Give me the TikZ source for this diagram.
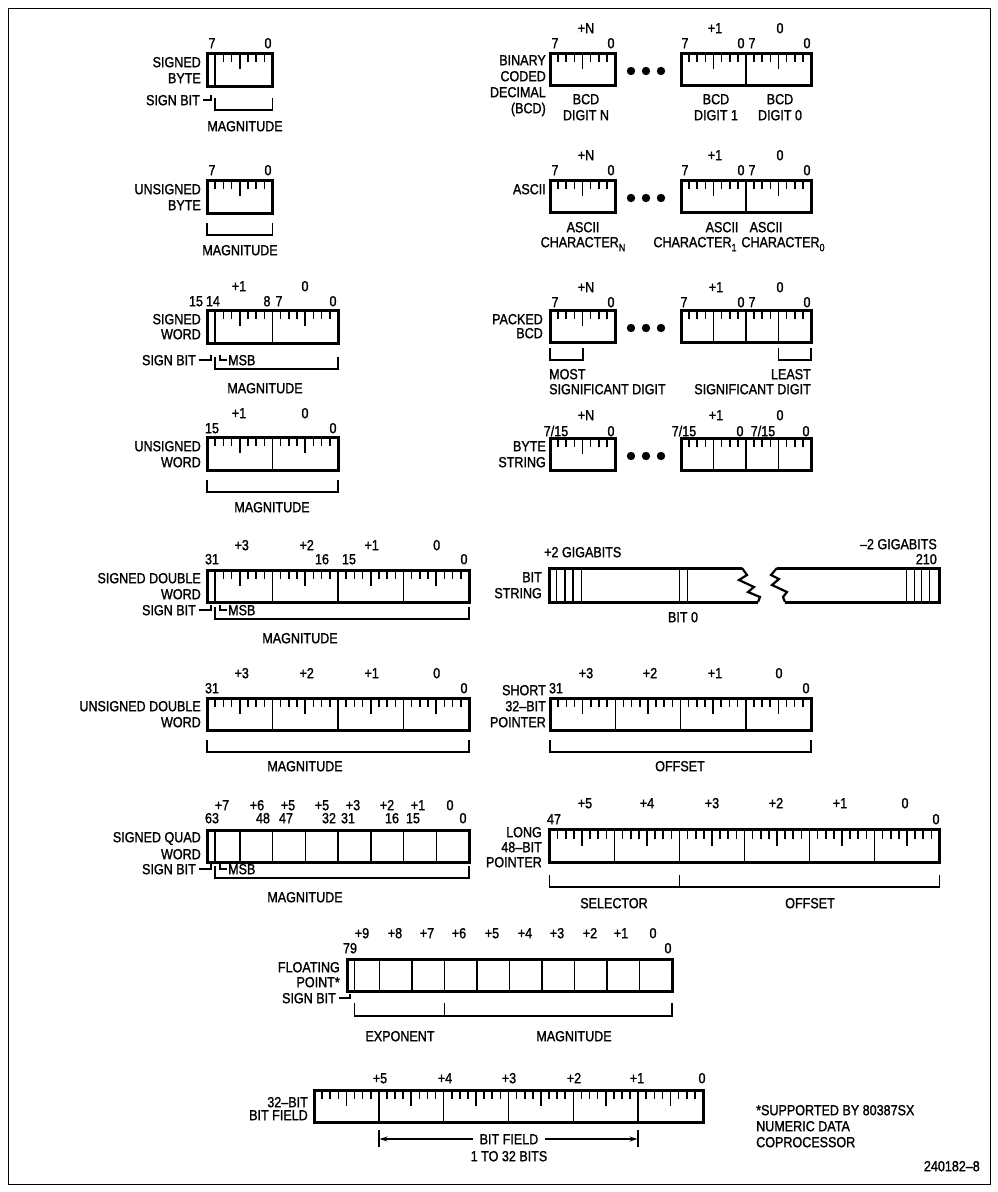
\documentclass[tikz,border=0pt]{standalone}
\usepackage{fontspec}
\newfontfamily\lblf[FakeStretch=0.86,FakeBold=1.3]{Liberation Sans}
\usetikzlibrary{arrows.meta}
\newcommand\lbl{\lblf\fontsize{14.6}{16}\selectfont}
\newcommand\sbs[1]{\raisebox{-4pt}{\fontsize{10.5}{10.5}\selectfont #1}}
\newcommand\tx[5][center]{\node[t,anchor=#1] (#2) at (#3,#4) {#5};}
% ruler byte: x0, ytop, width
\newcommand\rulerbyte[3]{%
  \foreach \k in {1,2,3,5,6,7}{\draw[tk] ({#1+\k*(#3)/8},#2) -- ++(0,9);}
  \draw[tk] ({#1+4*(#3)/8},#2) -- ++(0,16);}
% nibble byte: x0, ytop, width, height
\newcommand\nibblebyte[4]{%
  \foreach \k in {1,2,3,5,6,7}{\draw[tk] ({#1+\k*(#3)/8},#2) -- ++(0,9);}
  \draw[inl] ({#1+4*(#3)/8},#2) -- ++(0,#4);}
\tikzset{
  box/.style={line width=3pt},
  inl/.style={line width=1.5pt},
  tk/.style={line width=1.6pt},
  brk/.style={line width=1.5pt},
  t/.style={inner sep=0pt, font=\lbl, text height=10.4pt, text depth=0pt},
}
\begin{document}
\begin{tikzpicture}[x=1pt,y=-1pt]
\useasboundingbox (0,0) rectangle (998,1192);
\fill[white] (0,0) rectangle (998,1192);
\draw[line width=1pt] (8,8) rectangle (990,1184);

%================ LEFT COLUMN ================
% ---- signed byte
\rulerbyte{207}{53}{65.5}
\draw[inl] (215.2,53) -- (215.2,86);
\draw[box] (207,53) rectangle (272.5,86);
\tx{sbA}{212}{43}{7} \tx{sbB}{268}{43}{0}
\tx[east]{sbC}{201}{62}{SIGNED} \tx[east]{sbD}{201}{78}{BYTE}
\tx[east]{sbE}{200}{100}{SIGN BIT}
\draw[brk] ([xshift=3pt]sbE.east) -| (211,95);
\draw[brk] (215.2,98) -- (215.2,110) -- (272.5,110) -- (272.5,98);
\tx{sbF}{245}{126}{MAGNITUDE}

% ---- unsigned byte
\rulerbyte{207}{180}{65.5}
\draw[box] (207,180) rectangle (272.5,213);
\tx{ubA}{212}{170}{7} \tx{ubB}{268}{170}{0}
\tx[east]{ubC}{201}{189}{UNSIGNED} \tx[east]{ubD}{201}{205}{BYTE}
\draw[brk] (207,223) -- (207,235) -- (272.5,235) -- (272.5,223);
\tx{ubF}{240}{250}{MAGNITUDE}

% ---- signed word
\rulerbyte{207}{310}{65.5} \rulerbyte{272.5}{310}{65.5}
\draw[inl] (215.2,310) -- (215.2,343);
\draw[inl] (272.5,310) -- (272.5,343);
\draw[box] (207,310) rectangle (338,343);
\tx{swA}{239}{286}{+1} \tx{swB}{305}{286}{0}
\tx{swC}{196}{301}{15} \tx{swD}{213}{301}{14} \tx{swE}{267}{301}{8}
\tx{swF}{279}{301}{7} \tx{swG}{333}{301}{0}
\tx[east]{swH}{201}{319}{SIGNED} \tx[east]{swI}{201}{334}{WORD}
\tx[east]{swJ}{196}{360}{SIGN BIT}
\draw[brk] ([xshift=3pt]swJ.east) -| (211,355);
\draw[brk] (220,355) |- (227,360);
\tx[west]{swK}{228}{360}{MSB}
\draw[brk] (215.2,357) -- (215.2,369) -- (338,369) -- (338,357);
\tx{swL}{265}{388}{MAGNITUDE}

% ---- unsigned word
\rulerbyte{207}{437}{65.5} \rulerbyte{272.5}{437}{65.5}
\draw[inl] (272.5,437) -- (272.5,470);
\draw[box] (207,437) rectangle (338,470);
\tx{uwA}{239}{413}{+1} \tx{uwB}{305}{413}{0}
\tx{uwC}{212}{428}{15} \tx{uwD}{333}{428}{0}
\tx[east]{uwE}{201}{446}{UNSIGNED} \tx[east]{uwF}{201}{462}{WORD}
\draw[brk] (207,480) -- (207,492) -- (338,492) -- (338,480);
\tx{uwG}{272}{507}{MAGNITUDE}

% ---- signed double word
\foreach \x in {207,272.5,338,403.5}{\rulerbyte{\x}{570}{65.5}}
\foreach \x in {215.2,272.5,338,403.5}{\draw[inl] (\x,570) -- (\x,602);}
\draw[box] (207,570) rectangle (469,602);
\tx{sdA}{241.7}{545}{+3} \tx{sdB}{306.7}{545}{+2} \tx{sdC}{371.7}{545}{+1} \tx{sdD}{436.7}{545}{0}
\tx{sdE}{212}{559}{31} \tx{sdF}{322}{559}{16} \tx{sdG}{349}{559}{15} \tx{sdH}{464}{559}{0}
\tx[east]{sdI}{201}{578}{SIGNED DOUBLE} \tx[east]{sdJ}{201}{594}{WORD}
\tx[east]{sdK}{196}{610}{SIGN BIT}
\draw[brk] ([xshift=3pt]sdK.east) -| (211,605);
\draw[brk] (220,605) |- (227,610);
\tx[west]{sdL}{228}{610}{MSB}
\draw[brk] (215.2,607) -- (215.2,619) -- (469,619) -- (469,607);
\tx{sdM}{300}{638}{MAGNITUDE}

% ---- unsigned double word
\foreach \x in {207,272.5,338,403.5}{\rulerbyte{\x}{698}{65.5}}
\foreach \x in {272.5,338,403.5}{\draw[inl] (\x,698) -- (\x,730);}
\draw[box] (207,698) rectangle (469,730);
\tx{udA}{241.7}{673}{+3} \tx{udB}{306.7}{673}{+2} \tx{udC}{371.7}{673}{+1} \tx{udD}{436.7}{673}{0}
\tx{udE}{212}{688}{31} \tx{udF}{464}{688}{0}
\tx[east]{udG}{201}{706}{UNSIGNED DOUBLE} \tx[east]{udH}{201}{722}{WORD}
\draw[brk] (207,740) -- (207,752) -- (469,752) -- (469,740);
\tx{udI}{305}{766}{MAGNITUDE}

% ---- signed quad word
\foreach \x in {215.2,239.75,272.5,305.25,338,370.75,403.5,436.25}{\draw[inl] (\x,830) -- (\x,862);}
\draw[box] (207,830) rectangle (469,862);
\tx{sqA}{222}{805}{+7} \tx{sqB}{257}{805}{+6} \tx{sqC}{288}{805}{+5} \tx{sqD}{322}{805}{+5}
\tx{sqE}{353}{805}{+3} \tx{sqF}{387}{805}{+2} \tx{sqG}{418}{805}{+1} \tx{sqH}{450}{805}{0}
\tx{sqI}{212}{818}{63} \tx{sqJ}{263}{818}{48} \tx{sqK}{286}{818}{47} \tx{sqL}{329}{818}{32}
\tx{sqM}{348}{818}{31} \tx{sqN}{392}{818}{16} \tx{sqO}{413}{818}{15} \tx{sqP}{463}{818}{0}
\tx[east]{sqQ}{201}{837}{SIGNED QUAD} \tx[east]{sqR}{201}{854}{WORD}
\tx[east]{sqS}{196}{869}{SIGN BIT}
\draw[brk] ([xshift=3pt]sqS.east) -| (211,864);
\draw[brk] (220,864) |- (227,869);
\tx[west]{sqT}{228}{869}{MSB}
\draw[brk] (215.2,866) -- (215.2,878) -- (469,878) -- (469,866);
\tx{sqU}{305}{897}{MAGNITUDE}

% ---- floating point
\foreach \x in {354.5,379.5,412,444.5,477,509.5,542,574.5,607,639.5}{\draw[inl] (\x,959) -- (\x,991);}
\draw[box] (347,959) rectangle (672,991);
\tx{fpA}{362}{933}{+9} \tx{fpB}{395}{933}{+8} \tx{fpC}{427}{933}{+7} \tx{fpD}{459}{933}{+6}
\tx{fpE}{492}{933}{+5} \tx{fpF}{525}{933}{+4} \tx{fpG}{557}{933}{+3} \tx{fpH}{590}{933}{+2}
\tx{fpI}{621}{933}{+1} \tx{fpJ}{653}{933}{0}
\tx{fpK}{350}{948}{79} \tx{fpL}{668}{948}{0}
\tx[east]{fpM}{340}{967}{FLOATING} \tx[east]{fpN}{340}{982}{POINT*}
\tx[east]{fpO}{336}{998}{SIGN BIT}
\draw[brk] ([xshift=3pt]fpO.east) -| (350,994);
\draw[brk] (354.5,1003) -- (354.5,1016) -- (672,1016) -- (672,1003);
\draw[brk] (444.5,1003) -- (444.5,1016);
\tx{fpP}{400}{1036}{EXPONENT} \tx{fpQ}{574}{1036}{MAGNITUDE}

% ---- 32-bit bit field
\foreach \x in {314,378.83,443.67,508.5,573.33,638.17}{\rulerbyte{\x}{1090}{64.833}}
\foreach \x in {378.83,443.67,508.5,573.33,638.17}{\draw[inl] (\x,1090) -- (\x,1122);}
\draw[box] (314,1090) rectangle (703,1122);
\tx{bfA}{380}{1078}{+5} \tx{bfB}{445}{1078}{+4} \tx{bfC}{509}{1078}{+3}
\tx{bfD}{574}{1078}{+2} \tx{bfE}{637}{1078}{+1} \tx{bfF}{702}{1078}{0}
\tx[east]{bfG}{308}{1102}{32–BIT} \tx[east]{bfH}{308}{1115}{BIT FIELD}
\draw[inl] (378.83,1130) -- (378.83,1147);
\draw[inl] (638.17,1130) -- (638.17,1147);
\coordinate (bfl) at (379.5,1139);
\coordinate (bfr) at (637.5,1139);
\draw[line width=1.1pt, {Stealth[length=8pt,width=5pt]}-{Stealth[length=8pt,width=5pt]}] (bfl) -- (bfr);
\node[t, fill=white, inner xsep=7pt] (bfI) at (509,1139) {BIT FIELD};
\tx{bfJ}{509}{1156}{1 TO 32 BITS}

% ---- footnote
\tx[west]{fnA}{756}{1110}{*SUPPORTED BY 80387SX}
\tx[west]{fnB}{756}{1126}{NUMERIC DATA}
\tx[west]{fnC}{756}{1142}{COPROCESSOR}
\tx[east]{fnD}{980}{1166}{240182–8}

%================ RIGHT COLUMN ================
% ---- BCD
\rulerbyte{550}{53}{65}
\draw[box] (550,53) rectangle (615,85);
\rulerbyte{681}{53}{65} \rulerbyte{746}{53}{65}
\draw[inl] (746,53) -- (746,85);
\draw[box] (681,53) rectangle (811,85);
\foreach \x in {631,646,661}{\fill (\x,71) circle (4.2pt);}
\tx{bcA}{586}{28}{+N} \tx{bcB}{555}{43}{7} \tx{bcC}{611}{43}{0}
\tx{bcD}{715}{28}{+1} \tx{bcE}{780}{28}{0}
\tx{bcF}{685}{43}{7} \tx{bcG}{741}{43}{0} \tx{bcH}{752}{43}{7} \tx{bcI}{807}{43}{0}
\tx[east]{bcJ}{546}{60}{BINARY} \tx[east]{bcK}{546}{76}{CODED}
\tx[east]{bcL}{546}{92}{DECIMAL} \tx[east]{bcM}{546}{108}{(BCD)}
\tx{bcN}{586}{99}{BCD} \tx{bcO}{586}{115}{DIGIT N}
\tx{bcP}{716}{99}{BCD} \tx{bcQ}{716}{115}{DIGIT 1}
\tx{bcR}{780}{99}{BCD} \tx{bcS}{780}{115}{DIGIT 0}

% ---- ASCII
\rulerbyte{550}{180}{65}
\draw[box] (550,180) rectangle (615,212);
\rulerbyte{681}{180}{65} \rulerbyte{746}{180}{65}
\draw[inl] (746,180) -- (746,212);
\draw[box] (681,180) rectangle (811,212);
\foreach \x in {631,646,661}{\fill (\x,198) circle (4.2pt);}
\tx{asA}{586}{155}{+N} \tx{asB}{555}{170}{7} \tx{asC}{611}{170}{0}
\tx{asD}{715}{155}{+1} \tx{asE}{780}{155}{0}
\tx{asF}{685}{170}{7} \tx{asG}{741}{170}{0} \tx{asH}{752}{170}{7} \tx{asI}{807}{170}{0}
\tx[east]{asJ}{546}{189}{ASCII}
\tx{asK}{583}{227}{ASCII} \tx{asL}{583}{242}{CHARACTER\sbs{N}}
\tx{asM}{722}{227}{ASCII} \tx{asN}{766}{227}{ASCII}
\tx{asO}{695}{242}{CHARACTER\sbs{1}} \tx{asP}{783}{242}{CHARACTER\sbs{0}}

% ---- packed BCD
\rulerbyte{550}{310}{65}
\draw[box] (550,310) rectangle (615,342);
\nibblebyte{681}{310}{65}{32} \nibblebyte{746}{310}{65}{32}
\draw[inl] (746,310) -- (746,342);
\draw[box] (681,310) rectangle (811,342);
\foreach \x in {631,646,661}{\fill (\x,328) circle (4.2pt);}
\tx{pbA}{586}{287}{+N} \tx{pbB}{555}{302}{7} \tx{pbC}{611}{302}{0}
\tx{pbD}{716}{287}{+1} \tx{pbE}{780}{287}{0}
\tx{pbF}{684}{302}{7} \tx{pbG}{741}{302}{0} \tx{pbH}{752}{302}{7} \tx{pbI}{807}{302}{0}
\tx[east]{pbJ}{543}{319}{PACKED} \tx[east]{pbK}{543}{333}{BCD}
\draw[brk] (550,348) -- (550,360) -- (583,360) -- (583,348);
\tx[west]{pbL}{549}{374}{MOST} \tx[west]{pbM}{549}{389}{SIGNIFICANT DIGIT}
\draw[brk] (778.5,348) -- (778.5,360) -- (811,360) -- (811,348);
\tx[east]{pbN}{811}{374}{LEAST} \tx[east]{pbO}{811}{389}{SIGNIFICANT DIGIT}

% ---- byte string
\rulerbyte{550}{438}{65}
\draw[box] (550,438) rectangle (615,470);
\nibblebyte{681}{438}{65}{32} \nibblebyte{746}{438}{65}{32}
\draw[inl] (746,438) -- (746,470);
\draw[box] (681,438) rectangle (811,470);
\foreach \x in {631,646,661}{\fill (\x,456) circle (4.2pt);}
\tx{bsA}{556}{431}{7/15} \tx{bsB}{586}{415}{+N} \tx{bsC}{611}{431}{0}
\tx{bsD}{716}{415}{+1} \tx{bsE}{780}{415}{0}
\tx{bsF}{684}{431}{7/15} \tx{bsG}{740}{431}{0} \tx{bsH}{763}{431}{7/15} \tx{bsI}{806}{431}{0}
\tx[east]{bsJ}{546}{446}{BYTE} \tx[east]{bsK}{546}{462}{STRING}

% ---- bit string
\draw[box] (742,568) -- (549,568) -- (549,602) -- (758,602);
\draw[line width=2.2pt] (742,568) -- (747,575) -- (739,580) -- (754,587) -- (748,592) -- (760,597) -- (758,602);
\draw[box] (777,568) -- (939.5,568) -- (939.5,602) -- (785,602);
\draw[line width=2.2pt] (777,568) -- (771,575) -- (779,579) -- (772,585) -- (787,592) -- (783,597) -- (785,602);
\foreach \x in {556.5,565,573,581.5,679.3,687.3,906.7,914.3,921.7,929.3}{\draw[inl] (\x,568) -- (\x,602);}
\tx[west]{btA}{544}{552}{+2 GIGABITS}
\tx[east]{btB}{937}{544}{–2 GIGABITS}
\tx[east]{btC}{937}{559}{210}
\tx[east]{btD}{542}{577}{BIT} \tx[east]{btE}{542}{593}{STRING}
\tx{btF}{683}{617}{BIT 0}

% ---- short 32-bit pointer
\foreach \x in {550,615.25,680.5,745.75}{\rulerbyte{\x}{698}{65.25}}
\foreach \x in {615.25,680.5,745.75}{\draw[inl] (\x,698) -- (\x,730);}
\draw[box] (550,698) rectangle (811,730);
\tx{spA}{586}{673}{+3} \tx{spB}{650}{673}{+2} \tx{spC}{715}{673}{+1} \tx{spD}{779}{673}{0}
\tx{spE}{556}{688}{31} \tx{spF}{806}{688}{0}
\tx[east]{spG}{546}{690}{SHORT} \tx[east]{spH}{546}{706}{32–BIT} \tx[east]{spI}{546}{722}{POINTER}
\draw[brk] (550,740) -- (550,752) -- (811,752) -- (811,740);
\tx{spJ}{680}{766}{OFFSET}

% ---- long 48-bit pointer
\foreach \x in {549.5,614.5,679.5,744.5,809.5,874.5}{\rulerbyte{\x}{829.5}{65}}
\foreach \x in {614.5,679.5,744.5,809.5,874.5}{\draw[inl] (\x,829.5) -- (\x,862);}
\draw[box] (549.5,829.5) rectangle (939.5,862);
\tx{lpA}{585}{803}{+5} \tx{lpB}{647}{803}{+4} \tx{lpC}{712}{803}{+3}
\tx{lpD}{776}{803}{+2} \tx{lpE}{840}{803}{+1} \tx{lpF}{905}{803}{0}
\tx{lpG}{554}{819}{47} \tx{lpH}{936}{819}{0}
\tx[east]{lpI}{542}{832}{LONG} \tx[east]{lpJ}{542}{847}{48–BIT} \tx[east]{lpK}{542}{862}{POINTER}
\draw[brk] (549.5,875) -- (549.5,887) -- (939.5,887) -- (939.5,875);
\draw[brk] (679.5,875) -- (679.5,887);
\tx{lpL}{614}{903}{SELECTOR} \tx{lpM}{810}{903}{OFFSET}
\end{tikzpicture}
\end{document}
